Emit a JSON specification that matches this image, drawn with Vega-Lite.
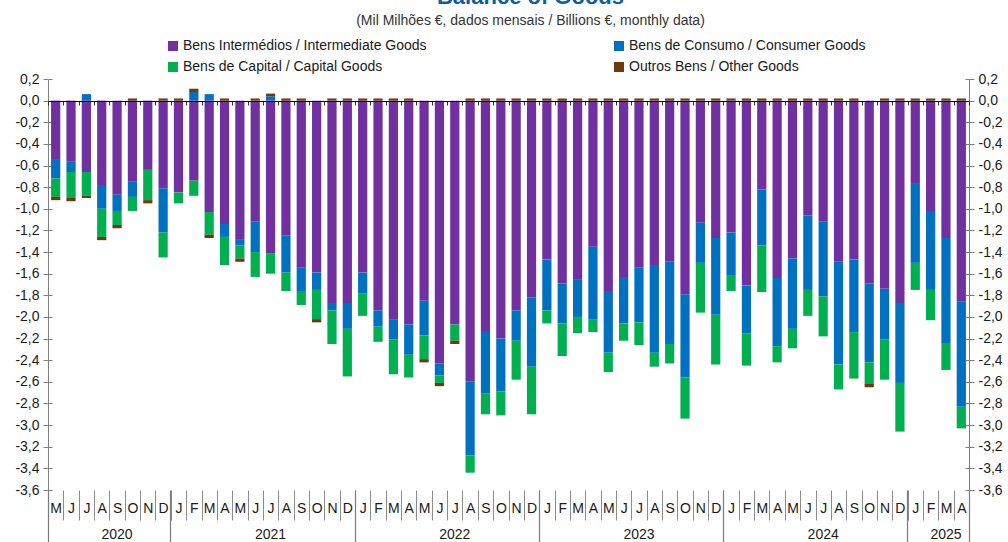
{
  "$schema": "https://vega.github.io/schema/vega-lite/v6.json",
  "width": 921,
  "height": 411,
  "autosize": "none",
  "padding": {"left": 48, "top": 79, "right": 39, "bottom": 52},
  "background": "white",
  "title": {
    "text": "Balance of Goods",
    "subtitle": "(Mil Milhões €, dados mensais / Billions €, monthly data)",
    "anchor": "middle",
    "dx": 22,
    "offset": 10,
    "font": "Liberation Sans",
    "fontSize": 22,
    "fontWeight": "bold",
    "color": "#0B5CA8",
    "subtitleFont": "Liberation Sans",
    "subtitleFontSize": 14,
    "subtitleColor": "#333333",
    "subtitlePadding": 5
  },
  "datasets": {
    "cats": [
      {"key": "I", "name": "Bens Intermédios / Intermediate Goods", "k": 1},
      {"key": "C", "name": "Bens de Consumo / Consumer Goods", "k": 2},
      {"key": "K", "name": "Bens de Capital / Capital Goods", "k": 3},
      {"key": "O", "name": "Outros Bens / Other Goods", "k": 4}
    ]
  },
  "data": {
    "values": [
      {"d": "2020-05", "I": -0.54, "C": -0.18, "K": -0.17, "O": -0.03},
      {"d": "2020-06", "I": -0.56, "C": -0.10, "K": -0.24, "O": -0.03},
      {"d": "2020-07", "I": -0.66, "C": 0.06, "K": -0.22, "O": -0.02},
      {"d": "2020-08", "I": -0.78, "C": -0.22, "K": -0.26, "O": -0.03},
      {"d": "2020-09", "I": -0.87, "C": -0.15, "K": -0.13, "O": -0.03},
      {"d": "2020-10", "I": -0.75, "C": -0.14, "K": -0.13, "O": 0.02},
      {"d": "2020-11", "I": -0.64, "C": 0.0, "K": -0.28, "O": -0.03},
      {"d": "2020-12", "I": -0.81, "C": -0.41, "K": -0.23, "O": 0.02},
      {"d": "2021-01", "I": -0.85, "C": 0.0, "K": -0.10, "O": 0.02},
      {"d": "2021-02", "I": -0.74, "C": 0.08, "K": -0.14, "O": 0.03},
      {"d": "2021-03", "I": -1.03, "C": 0.06, "K": -0.21, "O": -0.03},
      {"d": "2021-04", "I": -1.14, "C": -0.12, "K": -0.26, "O": 0.02},
      {"d": "2021-05", "I": -1.28, "C": -0.06, "K": -0.12, "O": -0.03},
      {"d": "2021-06", "I": -1.12, "C": -0.28, "K": -0.23, "O": 0.02},
      {"d": "2021-07", "I": -1.41, "C": 0.04, "K": -0.19, "O": 0.025},
      {"d": "2021-08", "I": -1.25, "C": -0.34, "K": -0.17, "O": 0.02},
      {"d": "2021-09", "I": -1.54, "C": -0.22, "K": -0.13, "O": 0.02},
      {"d": "2021-10", "I": -1.59, "C": -0.16, "K": -0.27, "O": -0.03},
      {"d": "2021-11", "I": -1.87, "C": -0.07, "K": -0.31, "O": 0.02},
      {"d": "2021-12", "I": -1.87, "C": -0.24, "K": -0.44, "O": 0.02},
      {"d": "2022-01", "I": -1.59, "C": -0.19, "K": -0.21, "O": 0.02},
      {"d": "2022-02", "I": -1.94, "C": -0.15, "K": -0.14, "O": 0.02},
      {"d": "2022-03", "I": -2.02, "C": -0.19, "K": -0.32, "O": 0.02},
      {"d": "2022-04", "I": -2.07, "C": -0.28, "K": -0.21, "O": 0.02},
      {"d": "2022-05", "I": -1.85, "C": -0.32, "K": -0.22, "O": -0.03},
      {"d": "2022-06", "I": -2.43, "C": -0.11, "K": -0.07, "O": -0.03},
      {"d": "2022-07", "I": -2.07, "C": 0.0, "K": -0.15, "O": -0.03},
      {"d": "2022-08", "I": -2.60, "C": -0.68, "K": -0.16, "O": 0.02},
      {"d": "2022-09", "I": -2.13, "C": -0.58, "K": -0.19, "O": 0.02},
      {"d": "2022-10", "I": -2.20, "C": -0.49, "K": -0.22, "O": 0.02},
      {"d": "2022-11", "I": -1.94, "C": -0.28, "K": -0.36, "O": 0.02},
      {"d": "2022-12", "I": -1.82, "C": -0.64, "K": -0.44, "O": 0.02},
      {"d": "2023-01", "I": -1.47, "C": -0.47, "K": -0.12, "O": 0.02},
      {"d": "2023-02", "I": -1.69, "C": -0.37, "K": -0.30, "O": 0.02},
      {"d": "2023-03", "I": -1.65, "C": -0.35, "K": -0.15, "O": 0.02},
      {"d": "2023-04", "I": -1.35, "C": -0.67, "K": -0.12, "O": 0.02},
      {"d": "2023-05", "I": -1.76, "C": -0.57, "K": -0.18, "O": 0.02},
      {"d": "2023-06", "I": -1.63, "C": -0.43, "K": -0.16, "O": 0.02},
      {"d": "2023-07", "I": -1.54, "C": -0.51, "K": -0.21, "O": 0.02},
      {"d": "2023-08", "I": -1.52, "C": -0.81, "K": -0.13, "O": 0.02},
      {"d": "2023-09", "I": -1.49, "C": -0.76, "K": -0.18, "O": 0.02},
      {"d": "2023-10", "I": -1.79, "C": -0.77, "K": -0.38, "O": 0.02},
      {"d": "2023-11", "I": -1.13, "C": -0.37, "K": -0.46, "O": 0.02},
      {"d": "2023-12", "I": -1.27, "C": -0.71, "K": -0.46, "O": 0.02},
      {"d": "2024-01", "I": -1.22, "C": -0.40, "K": -0.14, "O": 0.02},
      {"d": "2024-02", "I": -1.71, "C": -0.44, "K": -0.30, "O": 0.02},
      {"d": "2024-03", "I": -0.82, "C": -0.52, "K": -0.43, "O": 0.02},
      {"d": "2024-04", "I": -1.64, "C": -0.63, "K": -0.15, "O": 0.02},
      {"d": "2024-05", "I": -1.46, "C": -0.65, "K": -0.18, "O": 0.02},
      {"d": "2024-06", "I": -1.06, "C": -0.69, "K": -0.24, "O": 0.02},
      {"d": "2024-07", "I": -1.12, "C": -0.69, "K": -0.37, "O": 0.02},
      {"d": "2024-08", "I": -1.49, "C": -0.95, "K": -0.23, "O": 0.02},
      {"d": "2024-09", "I": -1.47, "C": -0.67, "K": -0.43, "O": 0.02},
      {"d": "2024-10", "I": -1.69, "C": -0.73, "K": -0.20, "O": -0.03},
      {"d": "2024-11", "I": -1.74, "C": -0.47, "K": -0.37, "O": 0.02},
      {"d": "2024-12", "I": -1.87, "C": -0.74, "K": -0.45, "O": 0.02},
      {"d": "2025-01", "I": -0.77, "C": -0.73, "K": -0.25, "O": 0.02},
      {"d": "2025-02", "I": -1.02, "C": -0.73, "K": -0.28, "O": 0.02},
      {"d": "2025-03", "I": -1.27, "C": -0.97, "K": -0.25, "O": 0.02},
      {"d": "2025-04", "I": -1.86, "C": -0.97, "K": -0.20, "O": 0.02}
    ]
  },
  "transform": [
    {"fold": ["I", "C", "K", "O"], "as": ["key", "v"]},
    {"lookup": "key", "from": {"data": {"name": "cats"}, "key": "key", "fields": ["name", "k"]}}
  ],
  "layer": [
    {
      "mark": {"type": "bar", "width": {"band": 0.6}},
      "encoding": {
        "x": {
          "field": "d", "type": "ordinal",
          "scale": {"paddingInner": 0, "paddingOuter": 0},
          "axis": {
            "orient": "bottom", "title": null, "domain": false,
            "tickBand": "extent", "tickSize": 30, "tickColor": "#8c8c8c", "tickWidth": 1,
            "labelPadding": -19, "labelAngle": 0, "labelOverlap": false, "labelBound": false,
            "labelFontSize": 14,
            "labelExpr": "substring('JFMAMJJASOND', toNumber(substring(datum.value,5,7))-1, toNumber(substring(datum.value,5,7)))"
          }
        },
        "y": {
          "field": "v", "type": "quantitative", "stack": "zero",
          "scale": {"domain": [-3.6, 0.2], "nice": false, "zero": false},
          "axis": {
            "orient": "left", "title": null,
            "values": [-3.6, -3.4, -3.2, -3, -2.8, -2.6, -2.4, -2.2, -2, -1.8, -1.6, -1.4, -1.2, -1, -0.8, -0.6, -0.4, -0.2, 0, 0.2],
            "labelExpr": "replace(replace(format(datum.value,'.1f'),'.',','),'−','-')",
            "tickSize": 5, "labelPadding": 4, "labelFontSize": 14
          }
        },
        "color": {
          "field": "name", "type": "nominal",
          "scale": {
            "domain": ["Bens Intermédios / Intermediate Goods", "Bens de Consumo / Consumer Goods", "Bens de Capital / Capital Goods", "Outros Bens / Other Goods"],
            "range": ["#7030A0", "#0070C0", "#00B050", "#6B3A10"]
          },
          "legend": {
            "orient": "none", "legendX": 118, "legendY": -40, "columns": 2, "direction": "horizontal",
            "columnPadding": 185, "rowPadding": 7, "padding": 0,
            "symbolType": "square", "symbolSize": 100, "symbolStrokeWidth": 0,
            "labelFontSize": 14, "labelOffset": 3, "labelLimit": 400, "title": null
          }
        },
        "order": {"field": "k", "type": "quantitative"}
      }
    },
    {
      "mark": {"type": "bar", "opacity": 0, "width": {"band": 0.6}},
      "encoding": {
        "x": {
          "field": "d", "type": "ordinal",
          "axis": {
            "orient": "bottom", "title": null, "ticks": false, "domain": false,
            "values": ["2020-09", "2021-07", "2022-07", "2023-07", "2024-07", "2025-03"],
            "bandPosition": 0, "labelPadding": 37, "labelAngle": 0, "labelOverlap": false,
            "labelFontSize": 14, "labelExpr": "substring(datum.value,0,4)"
          }
        },
        "y": {
          "field": "v", "type": "quantitative", "stack": "zero",
          "axis": {
            "orient": "right", "title": null,
            "values": [-3.6, -3.4, -3.2, -3, -2.8, -2.6, -2.4, -2.2, -2, -1.8, -1.6, -1.4, -1.2, -1, -0.8, -0.6, -0.4, -0.2, 0, 0.2],
            "labelExpr": "replace(replace(format(datum.value,'.1f'),'.',','),'−','-')",
            "tickSize": 5, "labelPadding": 4, "labelFontSize": 14
          }
        },
        "order": {"field": "k", "type": "quantitative"}
      }
    },
    {
      "mark": {"type": "bar", "opacity": 0},
      "encoding": {
        "x": {
          "field": "d", "type": "ordinal",
          "axis": {
            "orient": "bottom", "title": null, "labels": false, "domain": false,
            "values": ["2020-05", "2021-01", "2022-01", "2023-01", "2024-01", "2025-01"],
            "bandPosition": 0, "tickSize": 54, "tickColor": "#7a7a7a", "tickWidth": 1.2
          }
        },
        "y": {
          "field": "v", "type": "quantitative", "stack": "zero",
          "axis": {
            "orient": "left", "title": null, "labels": false, "domain": false, "offset": -4,
            "values": [-3.6, -3.4, -3.2, -3, -2.8, -2.6, -2.4, -2.2, -2, -1.8, -1.6, -1.4, -1.2, -1, -0.8, -0.6, -0.4, -0.2, 0, 0.2],
            "tickSize": 4
          }
        },
        "order": {"field": "k", "type": "quantitative"}
      }
    },
    {
      "mark": {"type": "bar", "opacity": 0},
      "encoding": {
        "x": {
          "field": "d", "type": "ordinal",
          "axis": {
            "orient": "bottom", "title": null, "labels": false, "domain": false,
            "values": ["2025-04"],
            "bandPosition": 1, "tickSize": 54, "tickColor": "#7a7a7a", "tickWidth": 1.2
          }
        },
        "y": {
          "field": "v", "type": "quantitative", "stack": "zero",
          "axis": {
            "orient": "right", "title": null, "labels": false, "domain": false, "offset": -4,
            "values": [-3.6, -3.4, -3.2, -3, -2.8, -2.6, -2.4, -2.2, -2, -1.8, -1.6, -1.4, -1.2, -1, -0.8, -0.6, -0.4, -0.2, 0, 0.2],
            "tickSize": 4
          }
        },
        "order": {"field": "k", "type": "quantitative"}
      }
    },
    {
      "mark": {"type": "bar", "opacity": 0},
      "encoding": {
        "x": {
          "field": "d", "type": "ordinal",
          "axis": {
            "orient": "bottom", "title": null, "labels": false, "offset": -389,
            "domain": true, "domainColor": "#000000", "domainWidth": 1,
            "tickBand": "extent", "tickSize": 4, "tickColor": "#333333", "zindex": 1
          }
        }
      }
    }
  ],
  "resolve": {"axis": {"x": "independent", "y": "independent"}},
  "config": {
    "font": "Liberation Sans",
    "view": {"stroke": null},
    "axis": {
      "labelFont": "Liberation Sans", "labelColor": "#1a1a1a", "grid": false,
      "domainColor": "#7f7f7f", "tickColor": "#7f7f7f"
    },
    "legend": {"labelFont": "Liberation Sans", "labelColor": "#1a1a1a"}
  }
}
